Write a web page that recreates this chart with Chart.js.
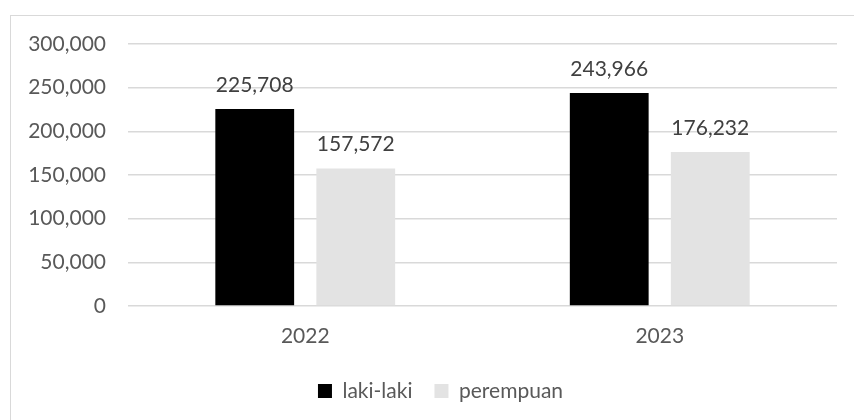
<!DOCTYPE html>
<html>
<head>
<meta charset="utf-8">
<script src="https://cdn.jsdelivr.net/npm/chart.js@4.4.1/dist/chart.umd.min.js"></script>
<style>
    body { margin: 0; background: #fff; }
    #frame { position: absolute; left: 10px; top: 15px; width: 900px; height: 500px; border: 1.5px solid #d9d9d9; }
    #wrap { position: absolute; left: 0; top: 0; width: 854px; height: 420px; }
</style>
</head>
<body>
<div id="frame"></div>
<div id="wrap"><canvas id="chart"></canvas></div>
<script>
// Datos del gráfico
const categories = ['2022', '2023'];
const lakiLaki = [225708, 243966];
const perempuan = [157572, 176232];
const yTicks = [0, 50000, 100000, 150000, 200000, 250000, 300000];

const FONT = 'Lato, "Open Sans", sans-serif';
const fmt = v => v.toLocaleString('en-US');

// Etiquetas encima de las barras
const barLabels = {
    id: 'barLabels',
    afterDatasetsDraw(chart) {
        const ctx = chart.ctx;
        ctx.save();
        ctx.font = '21px ' + FONT;
        ctx.fillStyle = '#404040';
        ctx.textAlign = 'center';
        ctx.textBaseline = 'middle';
        chart.data.datasets.forEach((ds, i) => {
            chart.getDatasetMeta(i).data.forEach((bar, j) => {
                ctx.fillText(fmt(ds.data[j]), bar.x, bar.y - 24);
            });
        });
        ctx.restore();
    }
};

// Mover la leyenda un poco a la derecha
const legendShift = {
    id: 'legendShift',
    afterLayout(chart) {
        if (chart.legend) {
            chart.legend.left += 22;
            chart.legend.right += 22;
        }
    }
};

new Chart(document.getElementById('chart'), {
    type: 'bar',
    data: {
        labels: categories,
        datasets: [
            { label: 'laki-laki', data: lakiLaki, backgroundColor: '#000000' },
            { label: 'perempuan', data: perempuan, backgroundColor: '#e3e3e3' }
        ]
    },
    options: {
        responsive: true,
        maintainAspectRatio: false,
        animation: false,
        categoryPercentage: 0.57,
        barPercentage: 0.78,
        layout: { padding: { top: 44, right: 17, bottom: 8.5, left: 0 } },
        plugins: {
            tooltip: { enabled: false },
            legend: {
                position: 'bottom',
                labels: {
                    boxWidth: 14,
                    boxHeight: 14,
                    padding: 22,
                    color: '#595959',
                    font: { family: FONT, size: 21 }
                }
            }
        },
        scales: {
            x: {
                grid: { display: false },
                border: { display: false },
                ticks: { color: '#595959', padding: 10, font: { family: FONT, size: 21 } },
                afterFit: s => { s.height = 52.5; }
            },
            y: {
                min: 0,
                max: 300000,
                afterBuildTicks: s => { s.ticks = yTicks.map(v => ({ value: v })); },
                grid: { color: '#d9d9d9', lineWidth: 1.5, drawTicks: false },
                border: { display: false },
                ticks: { color: '#595959', padding: 22, font: { family: FONT, size: 21 }, callback: v => fmt(v) },
                afterFit: s => { s.width = 128; }
            }
        }
    },
    plugins: [barLabels, legendShift]
});
</script>
</body>
</html>
